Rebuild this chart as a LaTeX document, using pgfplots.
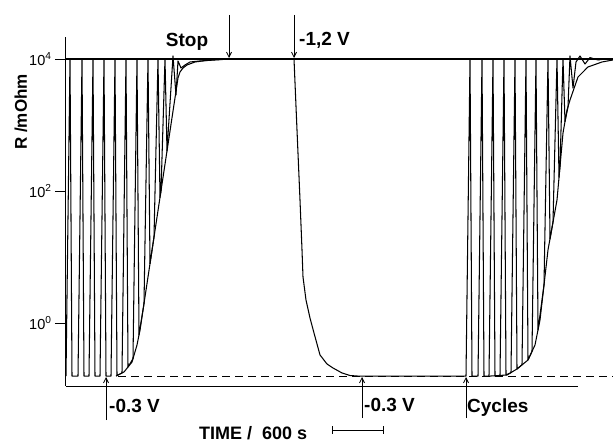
\documentclass[border=0pt]{standalone}
\usepackage{fontspec}
\setmainfont{Liberation Sans}
\usepackage{pgfplots}
\pgfplotsset{compat=1.18}
\usetikzlibrary{arrows.meta}
\begin{document}
\begin{tikzpicture}
\useasboundingbox (0pt,0pt) rectangle (613pt,-443pt);
\begin{axis}[
  at={(66pt,-386pt)}, anchor=south west,
  scale only axis, width=547pt, height=349pt,
  xmin=66, xmax=613, ymode=log, ymin=0.111, ymax=21540,
  axis x line=none, axis y line*=left,
  ytick={1,100,10000},
  yticklabels={{10\textsuperscript{0}},{10\textsuperscript{2}},{10\textsuperscript{4}}},
  yminorticks=false,
  tick align=outside, major tick length=11pt,
  yticklabel style={font=\fontsize{14.5}{16}\selectfont},
  tick style={black, line width=0.8pt},
  axis line style={black, line width=1pt},
  clip=false,
  no marks,
  trace/.style={black, line width=1.05pt, line join=round, no marks},
]
% top level line
\addplot[trace, line width=1.3pt] coordinates {(66,10000) (613,10000)};
% dashed low-level reference
\addplot[trace, dash pattern=on 8pt off 5pt] coordinates {(118,0.157) (613,0.157)};
% bottom baseline
\addplot[trace, line width=1pt] coordinates {(66,0.111) (578,0.111)};
% main trace
\addplot[trace] coordinates {
(66,0.157)(70,10000)(72,0.157)(78,0.157)(82,10000)(84,0.157)(89,0.157)(93,10000)(95,0.157)(100,0.157)(104,10000)(106,0.157)(111,0.157)(115,10000)(117,0.16)(122,0.175)(126,10000)(128,0.215)(133,0.288)(137,10000)(139,0.658)(144,1.97)(148,10000)(150,7.9)(154,20.1)(158,10000)(160,80)(161,100)(165,10000)(167,403)(173,11100)(176,2850)(178,9333)(181,7305)(185,8115)(190,9010)(200,9333)(215,9660)(230,10000)(294,10000)(297,840)(300,73.1)(302,12.8)(303,4.98)(306,2.23)(310,1.19)(314,0.705)(320,0.328)(327,0.239)(333,0.208)(342,0.175)(350,0.160)(358,0.157)(466,0.157)(470,10000)(472,0.157)(478,0.157)(482,10000)(484,0.157)(489,0.157)(493,10000)(495,0.158)(500,0.160)(504,10000)(506,0.163)(511,0.177)(515,10000)(517,0.201)(522,0.232)(526,10000)(528,0.275)(532,0.371)(536,10000)(538,0.783)(544,3.76)(548,10000)(550,18.7)(553,33.9)(557,10000)(559,163)(560,239)(563,10000)(565,1130)(568,1874)(570,11100)(573,3637)(576,9010)(580,11100)(585,8400)(590,10500)(598,9660)(605,10000)
};
% envelopes
\addplot[trace] coordinates {(116,0.157)(124,0.181)(132,0.256)(137,0.464)(140,0.783)(178,5155)(180,6355)(183,7305)(187,8115)(195,9010)(210,9660)(230,10000)};
\addplot[trace] coordinates {(490,0.157)(507,0.163)(517,0.201)(528,0.275)(535,0.464)(540,1.11)(548,12.8)(557,73.1)(563,757)(567,1688)(570,2392)(578,5336)(588,7568)(602,9010)(613,9660)};
\end{axis}
\tikzset{lab/.style={font=\bfseries\fontsize{19}{21}\selectfont, inner sep=0pt}}
\node[lab] at (187pt,-42pt) {Stop};
\node[lab, anchor=west] at (299pt,-40pt) {-1,2 V};
\node[lab, anchor=west] at (109pt,-406pt) {-0.3 V};
\node[lab, anchor=west] at (364pt,-405pt) {-0.3 V};
\node[lab, anchor=west] at (467pt,-408pt) {Cycles};
\node[lab, anchor=west, font=\bfseries\fontsize{18}{20}\selectfont] at (199pt,-433pt) {TIME /\ \ 600 s};
\node[font=\bfseries\fontsize{17}{19}\selectfont, rotate=90, inner sep=0pt] at (21pt,-112pt) {R /mOhm};
\begin{scope}[line width=0.8pt, -{Straight Barb[length=5pt,width=5pt]}]
\draw (229pt,-15pt) -- (229pt,-58pt);
\draw (294pt,-15pt) -- (294pt,-58pt);
\draw (106pt,-420pt) -- (106pt,-377pt);
\draw (362pt,-418pt) -- (362pt,-377pt);
\draw (466pt,-418pt) -- (466pt,-377pt);
\end{scope}
\draw[line width=0.8pt] (332pt,-430pt) -- (383pt,-430pt);
\draw[line width=0.8pt] (332pt,-426pt) -- (332pt,-434pt);
\draw[line width=0.8pt] (383pt,-426pt) -- (383pt,-434pt);
\end{tikzpicture}
\end{document}
